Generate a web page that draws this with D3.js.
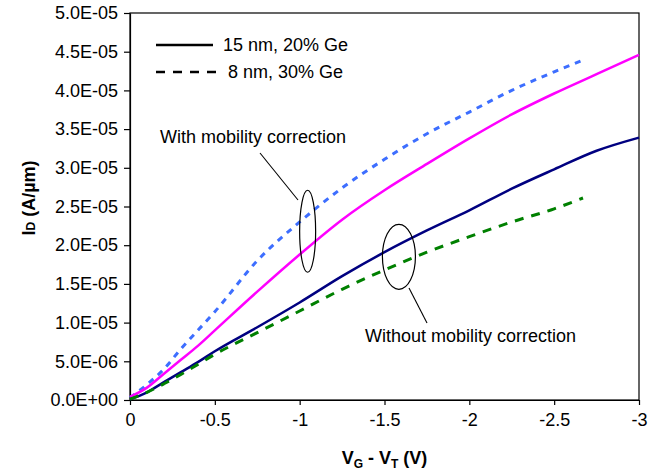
<!DOCTYPE html>
<html>
<head>
<meta charset="utf-8">
<script src="https://cdn.jsdelivr.net/npm/d3@7"></script>
<style>
  body { margin: 0; background: #fff; }
  text { font-family: "Liberation Sans", Arial, sans-serif; }
</style>
</head>
<body>
<div id="chart"></div>
<script>
// gate overdrive (V) for each device
const vg15 = [0, -0.1, -0.2, -0.3, -0.4, -0.5, -0.75, -1.0, -1.25, -1.5, -1.75, -2.0, -2.25, -2.5, -2.75, -3.0]
const vg8 = [0, -0.1, -0.2, -0.3, -0.4, -0.5, -0.75, -1.0, -1.25, -1.5, -1.75, -2.0, -2.25, -2.5, -2.67]

// drain current, uA/um (scaled to A/um below)
const id15With = [0.4, 1.6, 3.4, 5.2, 7.0, 9.0, 14.0, 18.8, 23.3, 27.1, 30.5, 33.8, 36.9, 39.6, 42.1, 44.6]
const id15Without = [0.1, 1.0, 2.3, 3.6, 4.9, 6.3, 9.4, 12.6, 16.0, 19.1, 21.9, 24.5, 27.3, 29.8, 32.2, 33.9]
const id8With = [0.3, 2.0, 4.0, 6.6, 9.0, 11.4, 18.0, 23.0, 27.4, 31.1, 34.4, 37.2, 40.0, 42.4, 43.9]
const id8Without = [0.1, 1.0, 2.1, 3.3, 4.6, 5.9, 8.7, 11.5, 14.3, 16.8, 19.1, 21.1, 23.0, 24.7, 26.1]

const xTicks = [0, -0.5, -1, -1.5, -2, -2.5, -3]
const xTickLabels = ["0", "-0.5", "-1", "-1.5", "-2", "-2.5", "-3"]
const yTicks = [0, 5e-6, 1e-5, 1.5e-5, 2e-5, 2.5e-5, 3e-5, 3.5e-5, 4e-5, 4.5e-5, 5e-5]
const yTickLabels = ["0.0E+00", "5.0E-06", "1.0E-05", "1.5E-05", "2.0E-05", "2.5E-05",
                     "3.0E-05", "3.5E-05", "4.0E-05", "4.5E-05", "5.0E-05"]

const series = [
  {x: vg8, y: id8With, color: '#3d6eff', dash: '6,6', width: 3},
  {x: vg15, y: id15With, color: '#ff00ff', dash: null, width: 2.5},
  {x: vg15, y: id15Without, color: '#000080', dash: null, width: 2.5},
  {x: vg8, y: id8Without, color: '#008000', dash: '9,8', width: 3}
]

let dimensions = {
  width: 661,
  height: 472,
  margin: { top: 13, bottom: 72, left: 130, right: 22 }
}

const svg = d3.select('#chart')
  .append('svg')
  .attr('width', dimensions.width)
  .attr('height', dimensions.height)

const containerWidth = dimensions.width - dimensions.margin.left - dimensions.margin.right
const containerHeight = dimensions.height - dimensions.margin.top - dimensions.margin.bottom

const container = svg.append('g')
  .attr('transform', `translate(${dimensions.margin.left},${dimensions.margin.top})`)

// Scales
const xScale = d3.scaleLinear().domain([0, -3]).range([0, containerWidth])
const yScale = d3.scaleLinear().domain([0, 5e-5]).range([containerHeight, 0])

// frame
container.append('rect')
  .attr('x', 0).attr('y', 0)
  .attr('width', containerWidth).attr('height', containerHeight)
  .attr('fill', 'none').attr('stroke', '#000').attr('stroke-width', 1.2)

// Axes
const xAxis = d3.axisBottom(xScale)
  .tickValues(xTicks)
  .tickFormat((d, i) => xTickLabels[i])
  .tickSizeInner(5).tickSizeOuter(0).tickPadding(8)

const xAxisGroup = container.append('g')
  .attr('transform', `translate(0, ${containerHeight})`)
  .call(xAxis)

const yAxis = d3.axisLeft(yScale)
  .tickValues(yTicks)
  .tickFormat((d, i) => yTickLabels[i])
  .tickSizeInner(6).tickSizeOuter(0).tickPadding(6)

const yAxisGroup = container.append('g').call(yAxis)

;[xAxisGroup, yAxisGroup].forEach(g => {
  g.select('.domain').attr('stroke', '#000').attr('stroke-width', 1.2)
  g.selectAll('.tick line').attr('stroke', '#000').attr('stroke-width', 1.2)
  g.selectAll('.tick text')
    .attr('font-family', '"Liberation Sans", Arial, sans-serif')
    .attr('font-size', '18px')
    .attr('fill', '#000')
})

// Curves
const line = d3.line()
  .curve(d3.curveMonotoneX)
  .x(d => xScale(d[0]))
  .y(d => yScale(d[1] * 1e-6))

container.selectAll('path.curve')
  .data(series)
  .join('path')
  .attr('class', 'curve')
  .attr('d', s => line(s.x.map((v, i) => [v, s.y[i]])))
  .attr('fill', 'none')
  .attr('stroke', s => s.color)
  .attr('stroke-width', s => s.width)
  .attr('stroke-dasharray', s => s.dash)
  .attr('stroke-linejoin', 'round')

// Legend
const legend = svg.append('g')
legend.append('line')
  .attr('x1', 156).attr('x2', 213).attr('y1', 45).attr('y2', 45)
  .attr('stroke', '#000').attr('stroke-width', 2.6)
legend.append('text')
  .attr('x', 223).attr('y', 51)
  .attr('font-size', '18px')
  .text('15 nm, 20% Ge')
legend.append('line')
  .attr('x1', 156).attr('x2', 216).attr('y1', 72).attr('y2', 72)
  .attr('stroke', '#000').attr('stroke-width', 2.6)
  .attr('stroke-dasharray', '9,8')
legend.append('text')
  .attr('x', 228).attr('y', 78)
  .attr('font-size', '18px')
  .text('8 nm, 30% Ge')

// Annotations
const notes = [
  {cx: -1.047, cy: 2.18e-5, rx: 8, ry: 41, text: 'With mobility correction',
   tx: 30, ty: 143, lx1: 260, ly1: 153, lx2: 298, ly2: 200},
  {cx: -1.585, cy: 1.85e-5, rx: 16.5, ry: 32.5, text: 'Without mobility correction',
   tx: 235, ty: 342, lx1: 409, ly1: 288, lx2: 427, ly2: 323}
]
notes.forEach(n => {
  container.append('ellipse')
    .attr('cx', xScale(n.cx)).attr('cy', yScale(n.cy))
    .attr('rx', n.rx).attr('ry', n.ry)
    .attr('fill', 'none').attr('stroke', '#000').attr('stroke-width', 1.2)
  svg.append('line')
    .attr('x1', n.lx1).attr('y1', n.ly1).attr('x2', n.lx2).attr('y2', n.ly2)
    .attr('stroke', '#000').attr('stroke-width', 1.1)
  container.append('text')
    .attr('x', n.tx).attr('y', n.ty - dimensions.margin.top)
    .attr('font-size', '18px')
    .text(n.text)
})

// Axis titles
const xTitle = svg.append('text')
  .attr('x', dimensions.margin.left + containerWidth / 2)
  .attr('y', 464)
  .attr('text-anchor', 'middle')
  .attr('font-size', '18px')
  .attr('font-weight', 'bold')
xTitle.append('tspan').text('V')
xTitle.append('tspan').attr('font-size', '12px').attr('dy', 4).text('G')
xTitle.append('tspan').attr('dy', -4).text(' - V')
xTitle.append('tspan').attr('font-size', '12px').attr('dy', 4).text('T')
xTitle.append('tspan').attr('dy', -4).text(' (V)')

const yTitle = svg.append('text')
  .attr('transform', 'translate(35,198) rotate(-90)')
  .attr('text-anchor', 'middle')
  .attr('font-size', '18px')
  .attr('font-weight', 'bold')
yTitle.append('tspan').text('I')
yTitle.append('tspan').attr('font-size', '12px').text('D')
yTitle.append('tspan').text(' (A/\u00b5m)')
</script>
</body>
</html>
